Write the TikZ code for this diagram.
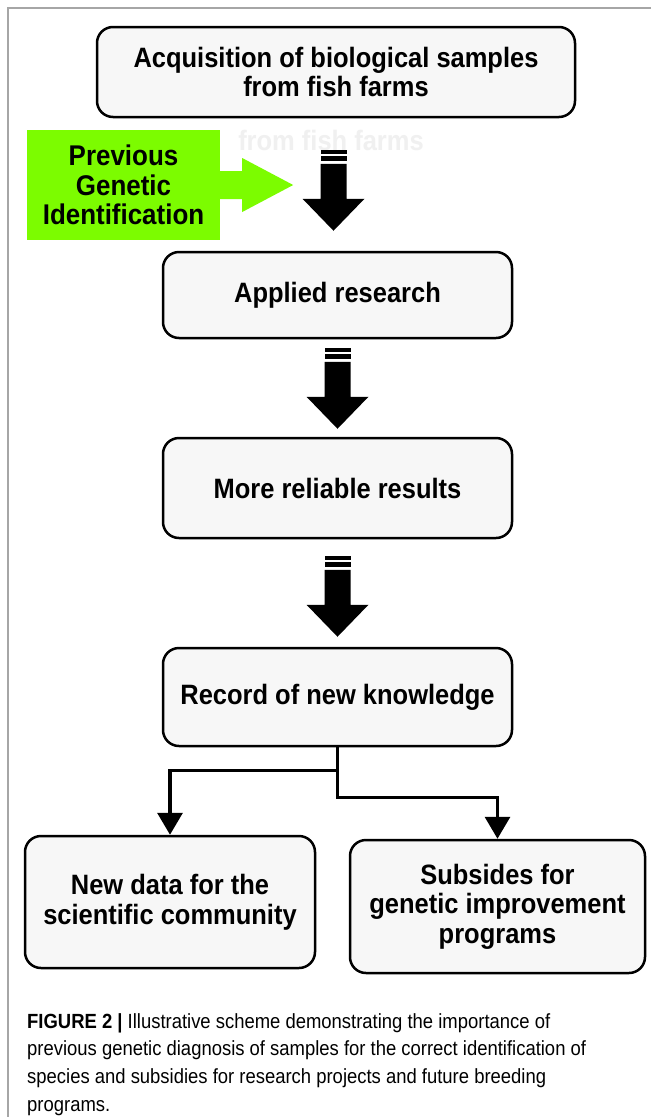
\documentclass[tikz,border=0pt]{standalone}
\usepackage{fontspec}
\setmainfont{Liberation Sans}
\newfontfamily\narrowfont[FakeStretch=0.91]{Liberation Sans}
\newfontfamily\captionfont[FakeStretch=0.9]{Liberation Sans}
\usetikzlibrary{arrows.meta,calc}
\definecolor{limegreen}{RGB}{124,252,0}
\definecolor{boxfill}{RGB}{247,247,247}
\tikzset{
  stage/.style={draw=black, line width=2.5pt, rounded corners=16pt, fill=boxfill, inner sep=0pt,
    align=center, font=\narrowfont\fontsize{28}{29.5}\selectfont\bfseries},
  conn/.style={line width=3.3pt, -{Triangle[length=22pt,width=25pt]}},
  blockdown/.pic={
    \fill (-13,-81) rectangle (13,-77);
    \fill (-13,-75) rectangle (13,-70);
    \fill (-13,-67) -- (13,-67) -- (13,-32) -- (31,-32) -- (0,0) -- (-31,-32) -- (-13,-32) -- cycle;
  }
}
\begin{document}
\begin{tikzpicture}[x=1pt, y=-1pt]
\useasboundingbox (0,0) rectangle (651,1117);
\fill[white] (0,0) rectangle (651,1117);
\draw[gray!70, line width=1.5pt] (651,8) -- (8,8) -- (8,1117);
\node[text=black!6, font=\narrowfont\fontsize{28}{27}\selectfont\bfseries] (ghost) at (331,140) {from fish farms};
\node[stage, minimum width=478pt, minimum height=90pt] (acq) at (336,72) {Acquisition of biological samples\\from fish farms};
\node[fill=limegreen, minimum width=193pt, minimum height=110pt, inner sep=0pt, align=center,
  font=\narrowfont\fontsize{28.5}{29.5}\selectfont\bfseries] (prev) at (123.5,185) {Previous\\Genetic\\Identification};
\fill[limegreen] ($(prev.east)+(-1,-14)$) -- ++(23,0) -- ++(0,-13) -- ++(51,27) -- ++(-51,27) -- ++(0,-13) -- ++(-23,0) -- cycle;
\node[stage, minimum width=349pt, minimum height=86pt] (applied) at (337.5,295) {Applied research};
\node[stage, minimum width=349pt, minimum height=100pt] (reliable) at (337.5,488) {More reliable results};
\node[stage, minimum width=349pt, minimum height=98pt] (record) at (337.5,697) {Record of new knowledge};
\node[stage, minimum width=290pt, minimum height=132pt] (newdata) at (170,902) {New data for the\\scientific community};
\node[stage, minimum width=295pt, minimum height=133pt] (subs) at (497.5,906.5) {Subsides for\\genetic improvement\\programs};
\pic at ($(applied.north)+(-4,-20)$) {blockdown};
\pic at ($(reliable.north)+(0,-8)$) {blockdown};
\pic at ($(record.north)+(0,-10)$) {blockdown};
\draw[conn] (record.south) -- ++(0,23) -| (newdata.north);
\draw[conn] (record.south) -- ++(0,50) -| (subs.north);
\node[anchor=north west, inner sep=0pt, align=left, font=\captionfont\fontsize{20.5}{27.7}\selectfont] (caption) at (27,1013)
  {\textbf{FIGURE 2 |} Illustrative scheme demonstrating the importance of\\
   previous genetic diagnosis of samples for the correct identification of\\
   species and subsidies for research projects and future breeding\\
   programs.};
\end{tikzpicture}
\end{document}
